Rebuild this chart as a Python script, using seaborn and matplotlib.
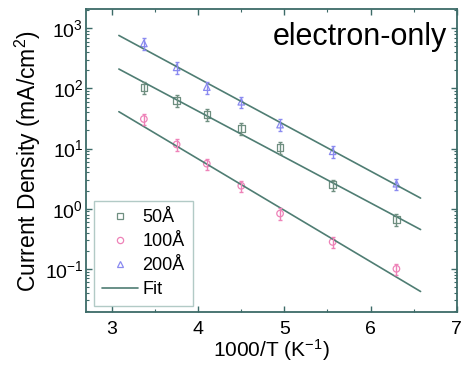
import numpy as np
import pandas as pd
import matplotlib
matplotlib.use('Agg')
import matplotlib.pyplot as plt
from matplotlib.ticker import MultipleLocator, LogLocator, NullFormatter
from matplotlib.lines import Line2D
import seaborn as sns

# data
inv_T = [3.37, 3.75, 4.10, 4.50, 4.95, 5.56, 6.30]
j_50 = [104, 63, 37, 21.5, 10.4, 2.5, 0.66]
j_100 = [31, 11.7, 5.6, 2.4, 0.83, 0.28, 0.10]
j_200 = [560, 224, 105, 60, 25, 9.0, 2.6]
err_frac = 0.22

fit_x = [3.08, 6.58]
fit_50 = [210, 0.45]
fit_100 = [41, 0.042]
fit_200 = [760, 1.5]

labels = ['50Å', '100Å', '200Å']
colors = ['#6f8f80', '#ee82b8', '#8a8af0']
markers = ['s', 'o', '^']
fit_color = '#4f7d73'
frame_color = '#3d6b68'

sns.set_style('ticks')
plt.rcParams['font.family'] = ['Liberation Sans', 'DejaVu Sans']
plt.rcParams['mathtext.fontset'] = 'custom'
plt.rcParams['mathtext.rm'] = 'Liberation Sans'
plt.rcParams['mathtext.it'] = 'Liberation Sans'
plt.rcParams['text.color'] = 'black'
plt.rcParams['axes.labelcolor'] = 'black'
plt.rcParams['xtick.labelcolor'] = 'black'
plt.rcParams['ytick.labelcolor'] = 'black'

df = pd.DataFrame({
    'x': inv_T * 3,
    'J': j_50 + j_100 + j_200,
    'sample': [l for l in labels for _ in inv_T],
})
fits = pd.DataFrame({
    'x': fit_x * 3,
    'J': fit_50 + fit_100 + fit_200,
    'sample': [l for l in labels for _ in fit_x],
})

fig = plt.figure(figsize=(4.68, 3.66), dpi=100)
ax = fig.add_axes([0.184, 0.147, 0.792, 0.828])

sns.lineplot(data=fits, x='x', y='J', units='sample', estimator=None,
             color=fit_color, lw=1.2, ax=ax, legend=False)
for lab, col in zip(labels, colors):
    sub = df[df['sample'] == lab]
    ax.errorbar(sub['x'], sub['J'],
                yerr=[sub['J'] * err_frac, sub['J'] * err_frac],
                fmt='none', ecolor=col, elinewidth=1.0, capsize=1.5)
sns.scatterplot(data=df, x='x', y='J', hue='sample', style='sample',
                palette=dict(zip(labels, colors)),
                markers=dict(zip(labels, markers)),
                s=22, linewidth=0.9, ax=ax, legend=False)
pts = ax.collections[-1]
pts.set_facecolor('none')
pts.set_edgecolors([colors[labels.index(s)] for s in df['sample']])

ax.set_yscale('log')
ax.set_xlim(2.7, 7.0)
ax.set_ylim(0.019, 2080)
ax.xaxis.set_major_locator(MultipleLocator(1))
ax.xaxis.set_minor_locator(MultipleLocator(0.5))
ax.yaxis.set_major_locator(LogLocator(base=10, numticks=10))
ax.yaxis.set_minor_locator(LogLocator(base=10, subs=np.arange(2, 10), numticks=20))
ax.yaxis.set_minor_formatter(NullFormatter())
ax.tick_params(which='both', direction='in', top=True, right=True,
               color=frame_color, labelsize=14, labelcolor='black')
ax.tick_params(axis='x', which='both', pad=6)
ax.tick_params(axis='y', which='both', pad=2)
ax.tick_params(which='major', length=4, width=1)
ax.tick_params(which='minor', length=2, width=0.8)
for sp in ax.spines.values():
    sp.set_color(frame_color)
    sp.set_linewidth(1.3)

ax.set_xlabel('1000/T (K$^{-1}$)', fontsize=15, labelpad=0, color='black')
ax.set_ylabel('Current Density (mA/cm$^2$)', fontsize=16.5, labelpad=1, color='black')
ax.text(0.973, 0.881, 'electron-only', transform=ax.transAxes,
        ha='right', va='baseline', fontsize=22, color='black')

handles = [Line2D([], [], ls='none', marker=m, mfc='none', mec=c, ms=4.5, mew=0.9)
           for m, c in zip(markers, colors)]
handles.append(Line2D([], [], color=fit_color, lw=1.2))
leg = ax.legend(handles, labels + ['Fit'], loc='lower left', fontsize=13,
                frameon=True, fancybox=False, borderpad=0.45, labelspacing=0.38,
                handlelength=2.0, handletextpad=0.25, borderaxespad=0,
                bbox_to_anchor=(0.02, 0.02))
leg.get_frame().set_edgecolor('#9fbdb8')
leg.get_frame().set_linewidth(1.0)
for t in leg.get_texts():
    t.set_color('black')

fig.savefig('out.png', dpi=100)
